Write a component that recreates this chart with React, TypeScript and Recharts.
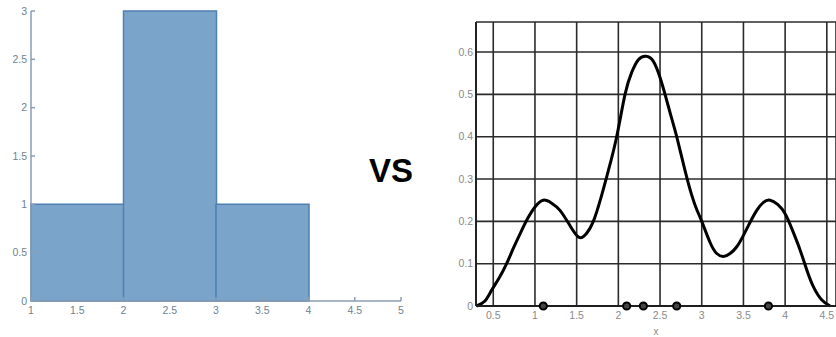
import React from "react";
import {
  ComposedChart,
  Bar,
  Line,
  Scatter,
  XAxis,
  YAxis,
  CartesianGrid,
} from "recharts";

// histogram
const binEdges = [1, 2, 3, 4, 5];
const binCounts = [1, 3, 1, 0];
const histXTicks = [1, 1.5, 2, 2.5, 3, 3.5, 4, 4.5, 5];
const histYTicks = [0, 0.5, 1, 1.5, 2, 2.5, 3];

// kernel density curve
const kdeX = [0.3, 0.4, 0.48, 0.57, 0.66, 0.74, 0.82, 0.91, 1.0, 1.1, 1.2, 1.3, 1.42, 1.53, 1.62, 1.7, 1.79, 1.88, 1.98, 2.08, 2.16, 2.24, 2.33, 2.42, 2.5, 2.56, 2.63, 2.7, 2.8, 2.88, 2.94, 3.0, 3.1, 3.18, 3.26, 3.34, 3.42, 3.5, 3.58, 3.66, 3.74, 3.82, 3.91, 4.0, 4.09, 4.18, 4.26, 4.34, 4.44, 4.54];
const kdeY = [0, 0.012, 0.037, 0.066, 0.1, 0.136, 0.17, 0.206, 0.234, 0.25, 0.243, 0.226, 0.19, 0.162, 0.172, 0.2, 0.255, 0.32, 0.4, 0.5, 0.552, 0.582, 0.59, 0.578, 0.54, 0.5, 0.45, 0.4, 0.32, 0.262, 0.228, 0.2, 0.15, 0.124, 0.117, 0.124, 0.14, 0.167, 0.198, 0.226, 0.245, 0.25, 0.24, 0.218, 0.178, 0.132, 0.085, 0.045, 0.014, 0];
const sampleX = [1.1, 2.1, 2.3, 2.7, 3.8];
const kdeXTicks = [0.5, 1, 1.5, 2, 2.5, 3, 3.5, 4, 4.5];
const kdeYTicks = [0, 0.1, 0.2, 0.3, 0.4, 0.5, 0.6];

const histData = binCounts.map((count, i) => ({
  bin: `${binEdges[i]}-${binEdges[i + 1]}`,
  x0: binEdges[i],
  count,
}));
const kdeData = kdeX.map((x, i) => ({ x, y: kdeY[i] }));
const sampleData = sampleX.map((x) => ({ x, y: 0 }));

const font = "Arial, Liberation Sans, sans-serif";
const histAxis = "#8a9db3";
const histTick = { fontSize: 10.5, fill: "#6f7f90", fontFamily: font };
const kdeTick = { fontSize: 10.5, fill: "#8a8a8a", fontFamily: font };

export default function App() {
  return (
    <div style={{ position: "fixed", left: 0, top: 0, width: 836, height: 337, background: "#fff" }}>
      <div style={{ position: "absolute", left: 0, top: 0 }}>
        <ComposedChart
          width={420}
          height={337}
          data={histData}
          barCategoryGap={0}
          margin={{ top: 11, right: 19, left: 0, bottom: 16 }}
        >
          <XAxis xAxisId="bins" dataKey="bin" type="category" orientation="top" height={0} hide />
          <XAxis
            xAxisId="edges"
            dataKey="x0"
            type="number"
            domain={[1, 5]}
            ticks={histXTicks}
            height={20}
            stroke={histAxis}
            strokeWidth={1.5}
            tick={histTick}
            tickSize={-4}
            tickMargin={10}
            interval={0}
          />
          <YAxis
            domain={[0, 3]}
            ticks={histYTicks}
            width={31}
            stroke={histAxis}
            strokeWidth={1.5}
            tick={histTick}
            tickSize={-4}
            tickMargin={8}
            interval={0}
          />
          <Bar
            xAxisId="bins"
            dataKey="count"
            fill="#7ba4ca"
            stroke="#4e7fb2"
            strokeWidth={1.5}
            isAnimationActive={false}
          />
        </ComposedChart>
      </div>
      <div
        style={{
          position: "absolute",
          left: 369,
          top: 152,
          fontFamily: font,
          fontWeight: 900,
          fontSize: 33,
          color: "#000",
          lineHeight: "38px",
        }}
      >
        VS
      </div>
      <div style={{ position: "absolute", left: 420, top: 0 }}>
        <ComposedChart
          width={416}
          height={337}
          data={kdeData}
          margin={{ top: 22, right: 0, left: 0, bottom: 0 }}
        >
          <CartesianGrid stroke="#2b2b2b" strokeWidth={1.6} />
          <XAxis
            dataKey="x"
            type="number"
            domain={[0.293, 4.61]}
            ticks={kdeXTicks}
            height={31}
            stroke="#1e1e1e"
            strokeWidth={2}
            tickLine={false}
            tickSize={0}
            tick={kdeTick}
            tickMargin={6}
            interval={0}
            label={{ value: "x", position: "insideBottom", offset: 2, fontSize: 10, fill: "#8a8a8a", fontFamily: font }}
          />
          <YAxis
            domain={[0, 0.671]}
            ticks={kdeYTicks}
            width={56}
            stroke="#1e1e1e"
            strokeWidth={1.8}
            tickLine={false}
            tickSize={0}
            tick={kdeTick}
            tickMargin={3}
            interval={0}
          />
          <Line
            dataKey="y"
            type="natural"
            stroke="#000"
            strokeWidth={3}
            dot={false}
            isAnimationActive={false}
          />
          <Scatter
            data={sampleData}
            dataKey="y"
            shape={(p: any) => <circle cx={p.cx} cy={p.cy} r={3.6} fill="#444" stroke="#000" strokeWidth={2} />}
            isAnimationActive={false}
          />
        </ComposedChart>
      </div>
    </div>
  );
}
